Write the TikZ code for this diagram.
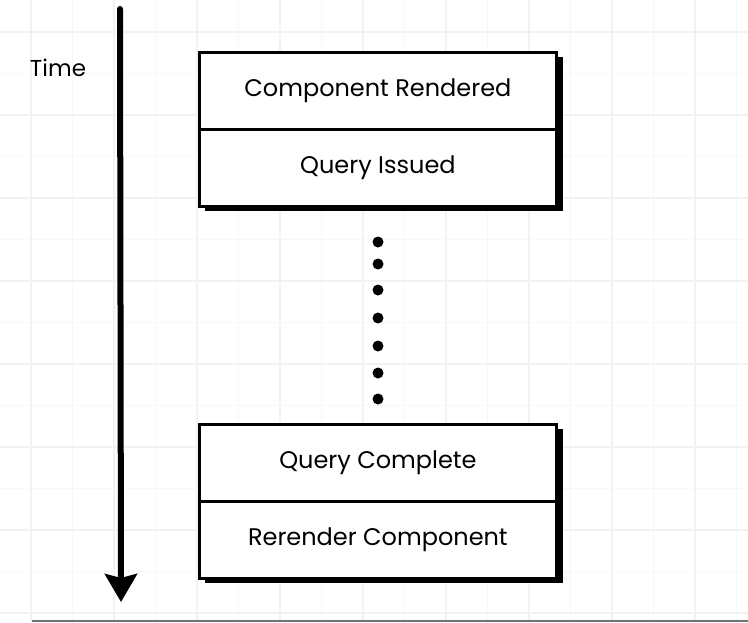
\documentclass[tikz,border=0pt]{standalone}
\usepackage{fontspec}
\setmainfont{Poppins}
\usetikzlibrary{arrows.meta}
\definecolor{gridmaj}{HTML}{F2F2F2}
\definecolor{gridmin}{HTML}{F7F7F7}
\begin{document}
\begin{tikzpicture}[x=1pt,y=-1pt,
  row/.style={draw=black, line width=2.8pt, fill=white, minimum width=357pt, minimum height=77pt, inner sep=0pt, font=\fontsize{24}{28}\selectfont, anchor=north west},
  shadowbox/.style={fill=black},
  dot/.style={circle, fill=black, minimum size=11pt, inner sep=0pt},
  timeline/.style={line width=6pt, line cap=round, -{Stealth[length=28pt,width=32pt,inset=4pt]}}]
\useasboundingbox (0,0) rectangle (748,622);
\fill[white] (0,0) rectangle (748,622);
% grid
\foreach \g in {72.5,155.5,238.5,321.5,404.5,487.5,570.5,653.5,736.5}
  \draw[gridmin, line width=1pt] (\g,0) -- (\g,622);
\foreach \g in {31,114,197,280,363,446,529,612,695}
  \draw[gridmaj, line width=1.2pt] (\g,0) -- (\g,622);
\foreach \g in {73.5,156.5,239.5,322.5,405.5,488.5,571.5}
  \draw[gridmin, line width=1pt] (0,\g) -- (748,\g);
\foreach \g in {32,115,198,281,364,447,530,613}
  \draw[gridmaj, line width=1.2pt] (0,\g) -- (748,\g);
% bottom bar
\draw[black!55, line width=2pt] (32,620.5) -- (748,620.5);
% time arrow
\coordinate (tstart) at (120,9);
\coordinate (tend) at (121,602);
\draw[timeline] (tstart) -- (tend);
\node[font=\fontsize{23}{26}\selectfont] (time) at (58,68) {Time};
% box 1
\fill[shadowbox] (205,57) rectangle (563,211);
\node[row] (cr) at (198,51) {Component Rendered};
\node[row] (qi) at (198,128) {Query Issued};
% dots
\foreach \y [count=\i] in {242,264,290,318,346,373,399}
  \node[dot] (d\i) at (378,\y) {};
% box 2
\fill[shadowbox] (205,429) rectangle (563,583);
\node[row] (qc) at (198,423) {Query Complete};
\node[row] (rc) at (198,500) {Rerender Component};
\end{tikzpicture}
\end{document}
